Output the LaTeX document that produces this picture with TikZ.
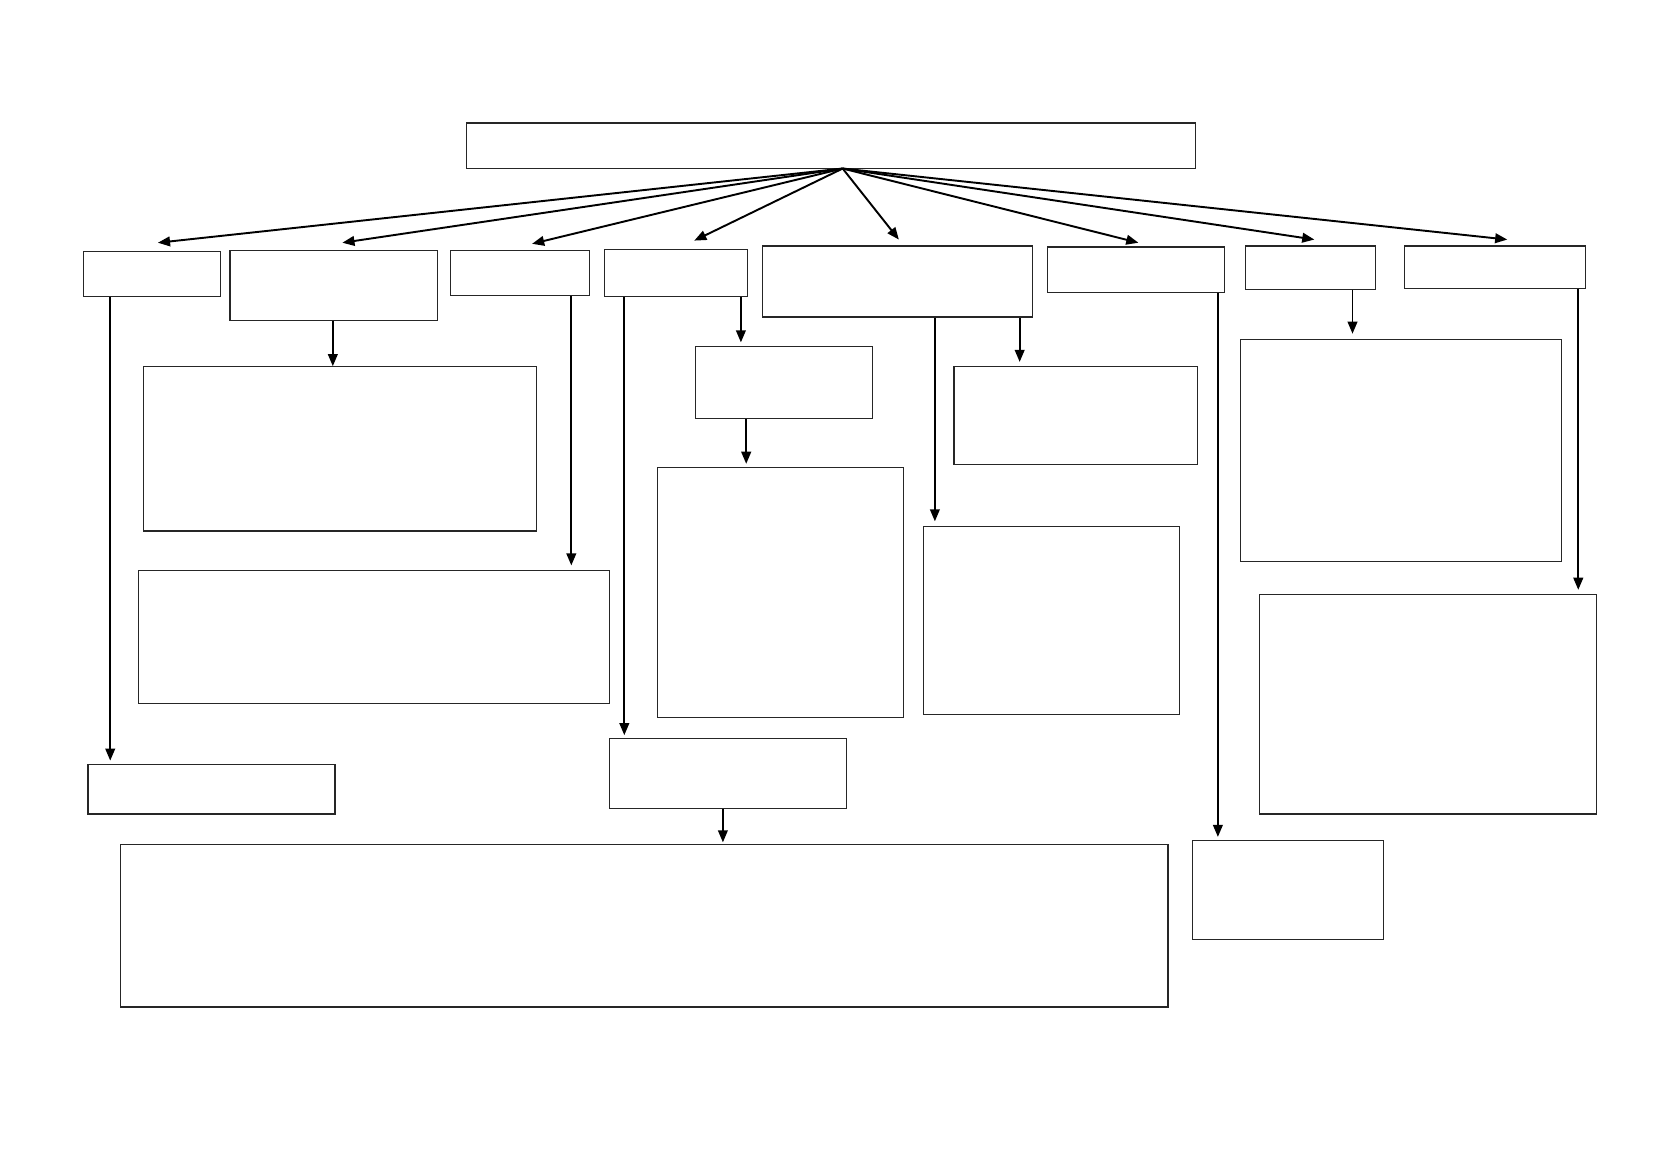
\documentclass[tikz,border=0pt]{standalone}
\usetikzlibrary{arrows.meta,fit}
\begin{document}
\begin{tikzpicture}[x=0.0175cm,y=-0.0175cm,
  box/.style={draw=black!85,line width=0.55pt,inner sep=0pt,fill=none},
  arr/.style={draw=black,line width=0.9pt,-{Triangle[length=0.2cm,width=0.16cm]}}]
\useasboundingbox[fill=white] (0,0) rectangle (1568,1108.5);
% top
\node[box,fit={(440,116) (1128,159)}] (top) {};
\coordinate (apex) at (795,159);
% row 1
\node[box,fit={(79,237) (208,280)}] (a) {};
\node[box,fit={(217,236) (413,302)}] (b) {};
\node[box,fit={(425,236) (556,279)}] (c) {};
\node[box,fit={(570,235) (705,280)}] (d) {};
\node[box,fit={(719,232) (974,299)}] (e) {};
\node[box,fit={(988,233) (1155,276)}] (f) {};
\node[box,fit={(1175,232) (1298,273)}] (g) {};
\node[box,fit={(1325,232) (1496,272)}] (h) {};
% lower boxes
\node[box,fit={(135,346) (506,501)}] (b1) {};
\node[box,fit={(131,538) (575,664)}] (c1) {};
\node[box,fit={(83,721) (316,768)}] (a1) {};
\node[box,fit={(656,327) (823,395)}] (d1) {};
\node[box,fit={(620,441) (852,677)}] (d2) {};
\node[box,fit={(575,697) (799,763)}] (d3) {};
\node[box,fit={(114,797) (1102,950)}] (d4) {};
\node[box,fit={(900,346) (1130,438)}] (e1) {};
\node[box,fit={(871,497) (1113,674)}] (e2) {};
\node[box,fit={(1125,793) (1305,886)}] (f1) {};
\node[box,fit={(1170,320) (1473,530)}] (g1) {};
\node[box,fit={(1188,561) (1506,768)}] (h1) {};
% fan endpoints
\coordinate (ta) at (149,229);
\coordinate (tb) at (323,229);
\coordinate (tc) at (502,230);
\coordinate (td) at (655,227);
\coordinate (te) at (848,226);
\coordinate (tf) at (1074,229);
\coordinate (tg) at (1240,226);
\coordinate (th) at (1422,226);
\foreach \t in {ta,tb,tc,td,te,tf,tg,th} \draw[arr] (apex) -- (\t);
% vertical x positions
\coordinate (xa) at (104,0);
\coordinate (xb) at (314,0);
\coordinate (xc) at (539,0);
\coordinate (xd) at (589,0);
\coordinate (xd1) at (699,0);
\coordinate (xd2) at (704,0);
\coordinate (xd4) at (682,0);
\coordinate (xe1) at (962,0);
\coordinate (xe2) at (882,0);
\coordinate (xf) at (1149,0);
\coordinate (xg) at (1276,0);
\coordinate (xh) at (1489,0);
\draw[arr] (a.south -| xa) -- ([yshift=0.05cm]a1.north -| xa);
\draw[arr] (b.south -| xb) -- (b1.north -| xb);
\draw[arr] (c.south -| xc) -- ([yshift=0.07cm]c1.north -| xc);
\draw[arr] (d.south -| xd) -- ([yshift=0.05cm]d3.north -| xd);
\draw[arr] (d.south -| xd1) -- ([yshift=0.06cm]d1.north -| xd1);
\draw[arr] (d1.south -| xd2) -- ([yshift=0.05cm]d2.north -| xd2);
\draw[arr] (d3.south -| xd4) -- ([yshift=0.03cm]d4.north -| xd4);
\draw[arr] (e.south -| xe1) -- ([yshift=0.07cm]e1.north -| xe1);
\draw[arr] (e.south -| xe2) -- ([yshift=0.08cm]e2.north -| xe2);
\draw[arr] (f.south -| xf) -- ([yshift=0.05cm]f1.north -| xf);
\draw[arr] (g.south -| xg) -- ([yshift=0.08cm]g1.north -| xg);
\draw[arr] (h.south -| xh) -- ([yshift=0.07cm]h1.north -| xh);
\end{tikzpicture}
\end{document}
